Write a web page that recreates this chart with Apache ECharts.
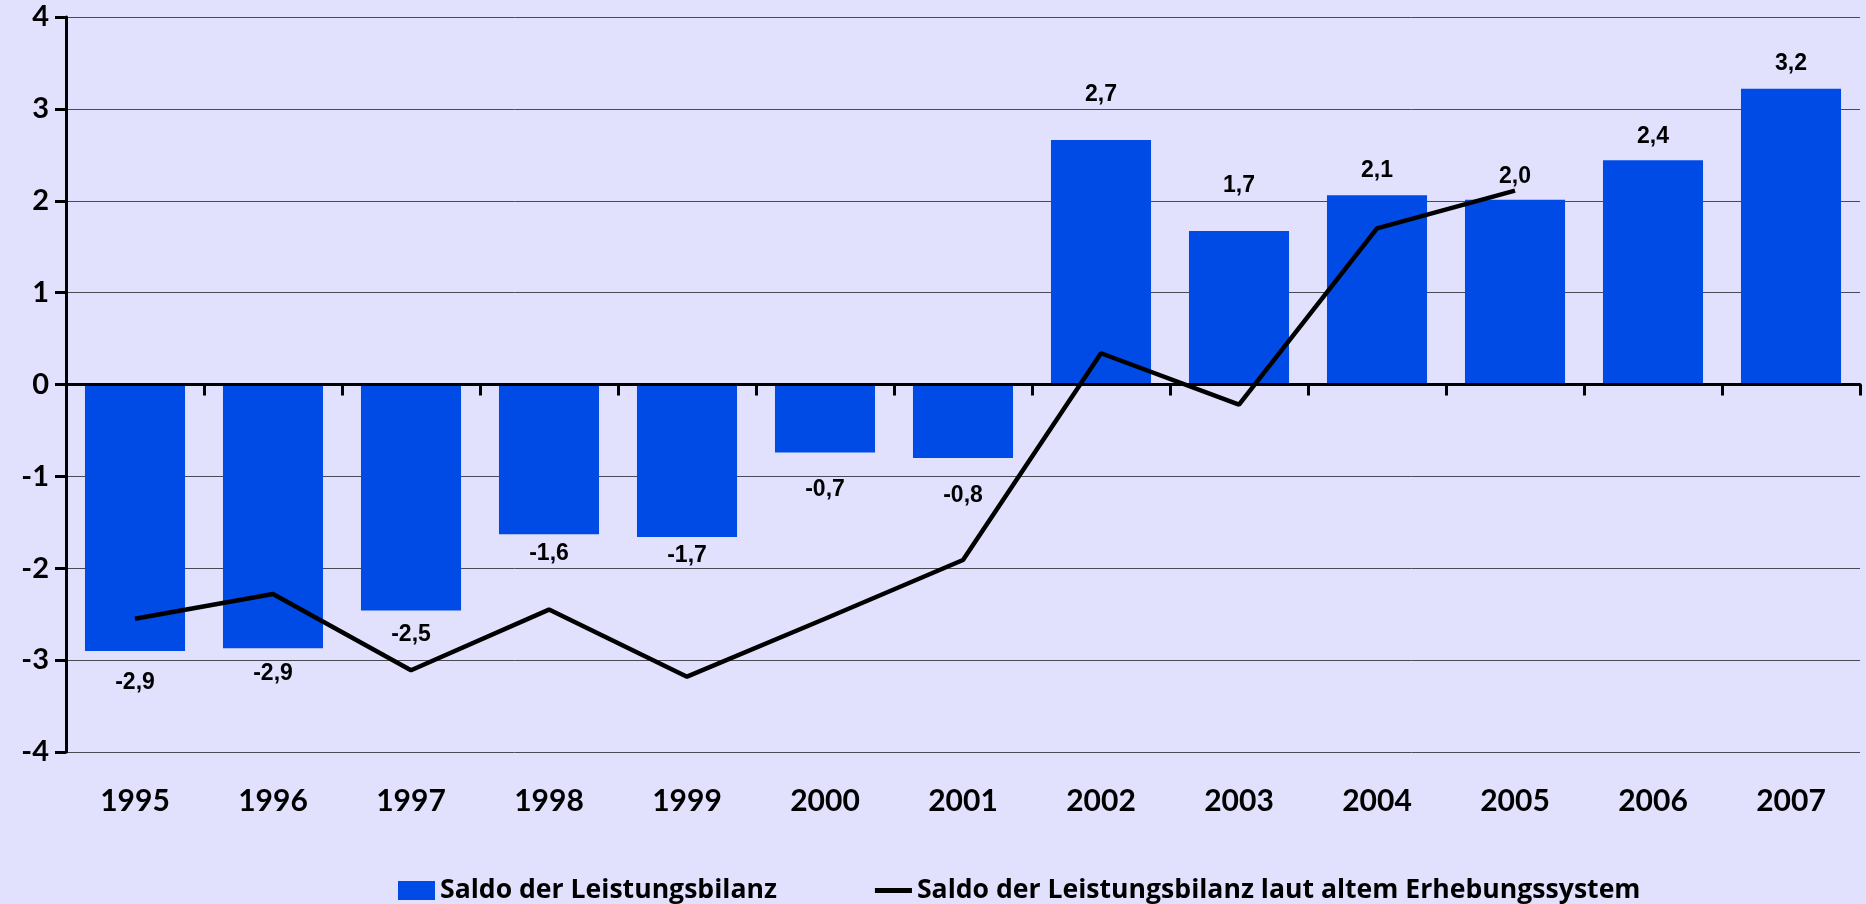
<!DOCTYPE html>
<html>
<head>
<meta charset="utf-8">
<script src="https://cdn.jsdelivr.net/npm/echarts@6/dist/echarts.min.js"></script>
<style>
html,body{margin:0;padding:0;background:#E1E1FD;}
#c{width:1866px;height:904px;}
</style>
</head>
<body>
<div id="c"></div>
<script>
// ---- data ----
var categories = ['1995','1996','1997','1998','1999','2000','2001','2002','2003','2004','2005','2006','2007'];
var saldo = [-2.9, -2.87, -2.46, -1.63, -1.66, -0.74, -0.80, 2.66, 1.67, 2.06, 2.01, 2.44, 3.22];
var saldoAlt = [-2.55, -2.28, -3.11, -2.45, -3.18, -2.55, -1.91, 0.34, -0.22, 1.70, 2.11, null, null];
var yTicks = [-4, -3, -2, -1, 0, 1, 2, 3, 4];
var seriesNames = ['Saldo der Leistungsbilanz', 'Saldo der Leistungsbilanz laut altem Erhebungssystem'];

// ---- styling (label gaps in px, per bar) ----
var labelDist = [20, 14, 13, 8, 7, 26, 26, 34, 34, 13, 12, 12, 14];
var barColor = '#004AE6';
var labelFont = "'Liberation Sans Narrow', 'Liberation Sans', Arial, sans-serif";
var axisFont = "Lato, 'Open Sans', sans-serif";
var legendFont = "'Open Sans', Lato, sans-serif";

function fmt(v){ return v.toFixed(1).replace('.', ','); }

var barData = saldo.map(function(v, i){
  return {
    value: v,
    label: {
      show: true,
      position: v >= 0 ? 'top' : 'bottom',
      distance: labelDist[i],
      formatter: function(){ return fmt(v); }
    }
  };
});

var chart = echarts.init(document.getElementById('c'), null, {renderer: 'canvas'});
chart.setOption({
  backgroundColor: '#E1E1FD',
  animation: false,
  grid: {left: 66, right: 6, top: 17, bottom: 152, containLabel: false, outerBoundsMode: 'none'},
  legend: {
    left: 393,
    top: 872,
    itemWidth: 37,
    itemHeight: 19,
    itemGap: 98,
    symbolKeepAspect: true,
    textStyle: {fontFamily: legendFont, fontWeight: 'bold', fontSize: 26.6, color: '#000'},
    data: [
      {name: seriesNames[0], icon: 'rect'},
      {name: seriesNames[1], icon: 'path://M0,0 L38,0 L38,5 L0,5 Z'}
    ]
  },
  xAxis: {
    type: 'category',
    data: categories,
    position: 'bottom',
    z: 5,
    axisLine: {show: true, onZero: true, lineStyle: {color: '#000', width: 3}},
    axisTick: {show: true, inside: false, length: 11, lineStyle: {color: '#000', width: 3}},
    splitLine: {show: false},
    axisLabel: {
      margin: 34,
      fontFamily: axisFont, fontWeight: 'bold', fontSize: 30, color: '#000'
    }
  },
  yAxis: {
    type: 'value',
    min: -4, max: 4, interval: 1,
    axisLine: {show: true, lineStyle: {color: '#000', width: 3}},
    axisTick: {show: true, length: 11, lineStyle: {color: '#000', width: 3}},
    splitLine: {show: true, lineStyle: {color: '#4a4a55', width: 1}},
    axisLabel: {
      margin: 17,
      fontFamily: axisFont, fontWeight: 'bold', fontSize: 29, color: '#000',
      formatter: function(v){ return yTicks.indexOf(v) >= 0 ? String(v) : ''; }
    }
  },
  series: [
    {
      name: seriesNames[0],
      type: 'bar',
      data: barData,
      barCategoryGap: '27.5%',
      itemStyle: {color: barColor},
      label: {
        fontFamily: labelFont, fontWeight: 'bold', fontSize: 23, color: '#000'
      }
    },
    {
      name: seriesNames[1],
      type: 'line',
      data: saldoAlt,
      symbol: 'none',
      connectNulls: false,
      z: 3,
      lineStyle: {color: '#000', width: 4.5},
      itemStyle: {color: '#000'}
    }
  ]
});
</script>
</body>
</html>
